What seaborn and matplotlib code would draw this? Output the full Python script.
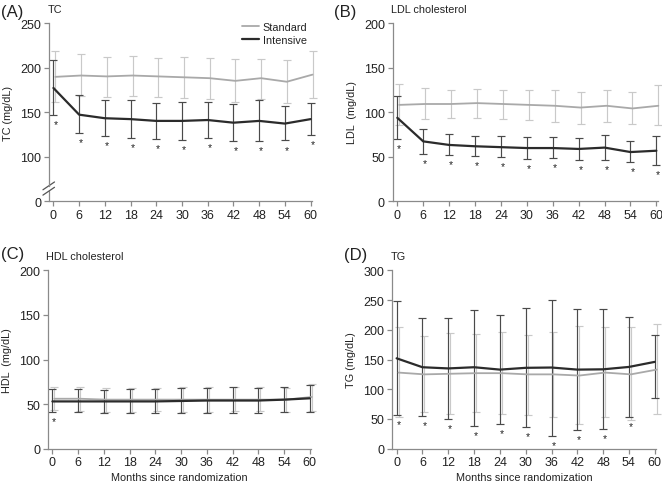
import matplotlib

matplotlib.use("Agg")
import matplotlib.pyplot as plt
import matplotlib.transforms as mtransforms
import numpy as np
import pandas as pd
import seaborn as sns

MONTHS = [0, 6, 12, 18, 24, 30, 36, 42, 48, 54, 60]
GROUPS = ["Standard", "Intensive"]

# TC
TC_STD_MEAN = [189.5, 191, 190, 191, 190, 189, 188, 185, 188, 184, 192]
TC_STD_UPPER = [218, 215, 212, 213, 211, 212, 211, 209, 210, 208, 219]
TC_STD_LOWER = [161, 168, 167, 168, 167, 166, 165, 161, 165, 160, 166]
TC_INT_MEAN = [177, 147, 143, 142, 140, 140, 141, 138, 140, 137, 142]
TC_INT_UPPER = [208, 169, 164, 163, 160, 161, 161, 159, 164, 157, 160]
TC_INT_LOWER = [147, 126, 123, 121, 120, 119, 121, 117, 117, 118, 124]
TC_STARS = [1, 1, 1, 1, 1, 1, 1, 1, 1, 1, 1]

# LDL
LDL_STD_MEAN = [108, 109, 109, 110, 109, 108, 107, 105, 107, 104, 107]
LDL_STD_UPPER = [131, 127, 125, 126, 125, 125, 125, 123, 125, 122, 130]
LDL_STD_LOWER = [85, 92, 93, 93, 92, 91, 89, 87, 89, 86, 85]
LDL_INT_MEAN = [93.5, 67, 63, 61.5, 60.5, 59.5, 59.5, 58.5, 60, 55, 56.5]
LDL_INT_UPPER = [118, 80.5, 75.5, 73, 72.5, 72, 71.5, 71, 74.5, 67, 73]
LDL_INT_LOWER = [70, 53, 51.5, 50.5, 49, 47.5, 48.5, 46.5, 46, 44, 40.5]
LDL_STARS = [1, 1, 1, 1, 1, 1, 1, 1, 1, 1, 1]

# HDL
HDL_STD_MEAN = [56, 56, 55, 55, 55, 55, 55, 55, 55, 55, 58]
HDL_STD_UPPER = [69.5, 69.5, 68.5, 68.5, 68.5, 69, 69.5, 69.5, 69, 68, 73]
HDL_STD_LOWER = [43, 42, 41, 41, 42, 41, 41, 42, 42, 41, 42]
HDL_INT_MEAN = [53, 53, 53, 53, 53, 53.5, 54, 54, 54, 55, 56.5]
HDL_INT_UPPER = [67, 67, 66, 66.5, 67, 67.5, 68.5, 69, 68.5, 69.5, 71]
HDL_INT_LOWER = [41, 41, 40, 40, 40, 40, 40, 40, 40, 41, 41]
HDL_STARS = [1, 0, 0, 0, 0, 0, 0, 0, 0, 0, 0]

# TG
TG_STD_MEAN = [128, 125, 126, 127, 127, 125, 125, 123, 128, 125, 133]
TG_STD_UPPER = [205, 189, 195, 193, 196, 192, 196, 206, 204, 204, 209]
TG_STD_LOWER = [54, 61, 59, 61, 59, 57, 54, 41, 53, 48, 59]
TG_INT_MEAN = [152, 137, 135, 137, 133, 136, 136.5, 133, 133.5, 137.5, 146]
TG_INT_UPPER = [248, 219, 219, 234, 224, 236, 250, 235, 235, 222, 192]
TG_INT_LOWER = [57, 55, 50, 39, 41, 36, 21, 32, 33, 53, 86]
TG_STARS = [1, 1, 1, 1, 1, 1, 1, 1, 1, 1, 0]

STD_COLOR = "#a9a9a9"
STD_BAR_COLOR = "#c9c9c9"
INT_COLOR = "#2b2b2b"
INT_BAR_COLOR = "#4a4a4a"
SPINE_COLOR = "#8a8a8a"
STD_SHIFT = 0.45
FONT = "Liberation Sans"


def make_frame(std_mean, std_upper, std_lower, int_mean, int_upper, int_lower):
    rows = []
    for group, mean, upper, lower, shift in [
        ("Standard", std_mean, std_upper, std_lower, STD_SHIFT),
        ("Intensive", int_mean, int_upper, int_lower, 0.0),
    ]:
        for m, v, u, lo in zip(MONTHS, mean, upper, lower):
            rows.append({"month": m, "x": m + shift, "group": group,
                         "value": v, "upper": u, "lower": lo})
    return pd.DataFrame(rows)


def draw_panel(ax, df, stars, ylim, yticks, yticklabels, ylabel, title, legend=False):
    for group, line_color, bar_color, lw in [
        ("Standard", STD_COLOR, STD_BAR_COLOR, 1.3),
        ("Intensive", INT_COLOR, INT_BAR_COLOR, 1.6),
    ]:
        sub = df[df["group"] == group]
        ax.errorbar(sub["x"], sub["value"],
                    yerr=[sub["value"] - sub["lower"], sub["upper"] - sub["value"]],
                    fmt="none", ecolor=bar_color, elinewidth=0.85,
                    capsize=3.2, capthick=0.85, clip_on=False, zorder=2)
        sns.lineplot(data=sub, x="x", y="value", color=line_color, linewidth=lw,
                     label=group if legend else None, ax=ax, zorder=3,
                     clip_on=False, legend=legend)

    ints = df[df["group"] == "Intensive"].reset_index(drop=True)
    for i, flag in enumerate(stars):
        if flag:
            ax.annotate("*", xy=(ints.loc[i, "x"] + STD_SHIFT, ints.loc[i, "lower"]),
                        xytext=(0, -3), textcoords="offset points",
                        ha="center", va="top", fontsize=7.5, color="#222222",
                        family=FONT, annotation_clip=False)

    ax.set_xlim(-1.1, 60.3)
    ax.set_ylim(*ylim)
    ax.set_xticks(MONTHS)
    ax.set_xticklabels([str(m) for m in MONTHS])
    ax.set_yticks(yticks)
    ax.set_yticklabels(yticklabels)
    ax.set_ylabel(ylabel, fontsize=7.8, labelpad=5)
    ax.set_xlabel("")
    ax.set_title(title, loc="left", fontsize=7.8, pad=8, x=-0.005)
    sns.despine(ax=ax)
    for side in ["left", "bottom"]:
        ax.spines[side].set_color(SPINE_COLOR)
        ax.spines[side].set_linewidth(0.9)
    ax.tick_params(axis="both", labelsize=9, colors=SPINE_COLOR, length=3.5,
                   width=0.9, labelcolor="#222222", pad=2)


def add_axis_break(ax, low, high):
    ax.spines["left"].set_bounds(high, ax.get_ylim()[1])
    trans = mtransforms.blended_transform_factory(ax.transAxes, ax.transData)
    ax.plot([0, 0], [ax.get_ylim()[0], low], color=SPINE_COLOR, lw=0.9,
            transform=trans, clip_on=False)
    for y in [low, high]:
        y_ax = (y - ax.get_ylim()[0]) / (ax.get_ylim()[1] - ax.get_ylim()[0])
        ax.plot([-0.022, 0.022], [y_ax - 0.022, y_ax + 0.022], color="#555555",
                lw=0.9, transform=ax.transAxes, clip_on=False)


def main() -> None:
    sns.set_style("ticks")
    plt.rcParams["font.family"] = [FONT, "DejaVu Sans"]
    plt.rcParams["text.color"] = "#222222"
    plt.rcParams["axes.labelcolor"] = "#222222"

    fig = plt.figure(figsize=(6.62, 4.85), dpi=100)
    ax_a = fig.add_axes([0.0736, 0.5835, 0.3975, 0.367])
    ax_b = fig.add_axes([0.593, 0.5835, 0.4005, 0.367])
    ax_c = fig.add_axes([0.072, 0.0728, 0.398, 0.3678])
    ax_d = fig.add_axes([0.592, 0.0728, 0.399, 0.3678])

    tc = make_frame(TC_STD_MEAN, TC_STD_UPPER, TC_STD_LOWER,
                    TC_INT_MEAN, TC_INT_UPPER, TC_INT_LOWER)
    ldl = make_frame(LDL_STD_MEAN, LDL_STD_UPPER, LDL_STD_LOWER,
                     LDL_INT_MEAN, LDL_INT_UPPER, LDL_INT_LOWER)
    hdl = make_frame(HDL_STD_MEAN, HDL_STD_UPPER, HDL_STD_LOWER,
                     HDL_INT_MEAN, HDL_INT_UPPER, HDL_INT_LOWER)
    tg = make_frame(TG_STD_MEAN, TG_STD_UPPER, TG_STD_LOWER,
                    TG_INT_MEAN, TG_INT_UPPER, TG_INT_LOWER)

    draw_panel(ax_a, tc, TC_STARS, (50, 250), [50, 100, 150, 200, 250],
               ["0", "100", "150", "200", "250"], "TC (mg/dL)", "TC", legend=True)
    add_axis_break(ax_a, 61, 67)
    ax_a.legend(loc="upper right", frameon=False, fontsize=7.8,
                handlelength=1.5, handletextpad=0.4, labelspacing=0.25,
                borderaxespad=0.0, bbox_to_anchor=(1.0, 1.03))

    draw_panel(ax_b, ldl, LDL_STARS, (0, 200), [0, 50, 100, 150, 200],
               ["0", "50", "100", "150", "200"], "LDL  (mg/dL)", "LDL cholesterol")
    draw_panel(ax_c, hdl, HDL_STARS, (0, 200), [0, 50, 100, 150, 200],
               ["0", "50", "100", "150", "200"], "HDL  (mg/dL)", "HDL cholesterol")
    draw_panel(ax_d, tg, TG_STARS, (0, 300), [0, 50, 100, 150, 200, 250, 300],
               ["0", "50", "100", "150", "200", "250", "300"], "TG (mg/dL)", "TG")

    for ax in [ax_c, ax_d]:
        ax.set_xlabel("Months since randomization", fontsize=7.8, labelpad=3)

    for label, x, y in [("(A)", 0.002, 0.975), ("(B)", 0.505, 0.975),
                        ("(C)", 0.002, 0.475), ("(D)", 0.519, 0.473)]:
        fig.text(x, y, label, fontsize=12, ha="left", va="center", color="#222222")

    fig.savefig("out.png", dpi=100)
    plt.close(fig)


if __name__ == "__main__":
    main()
